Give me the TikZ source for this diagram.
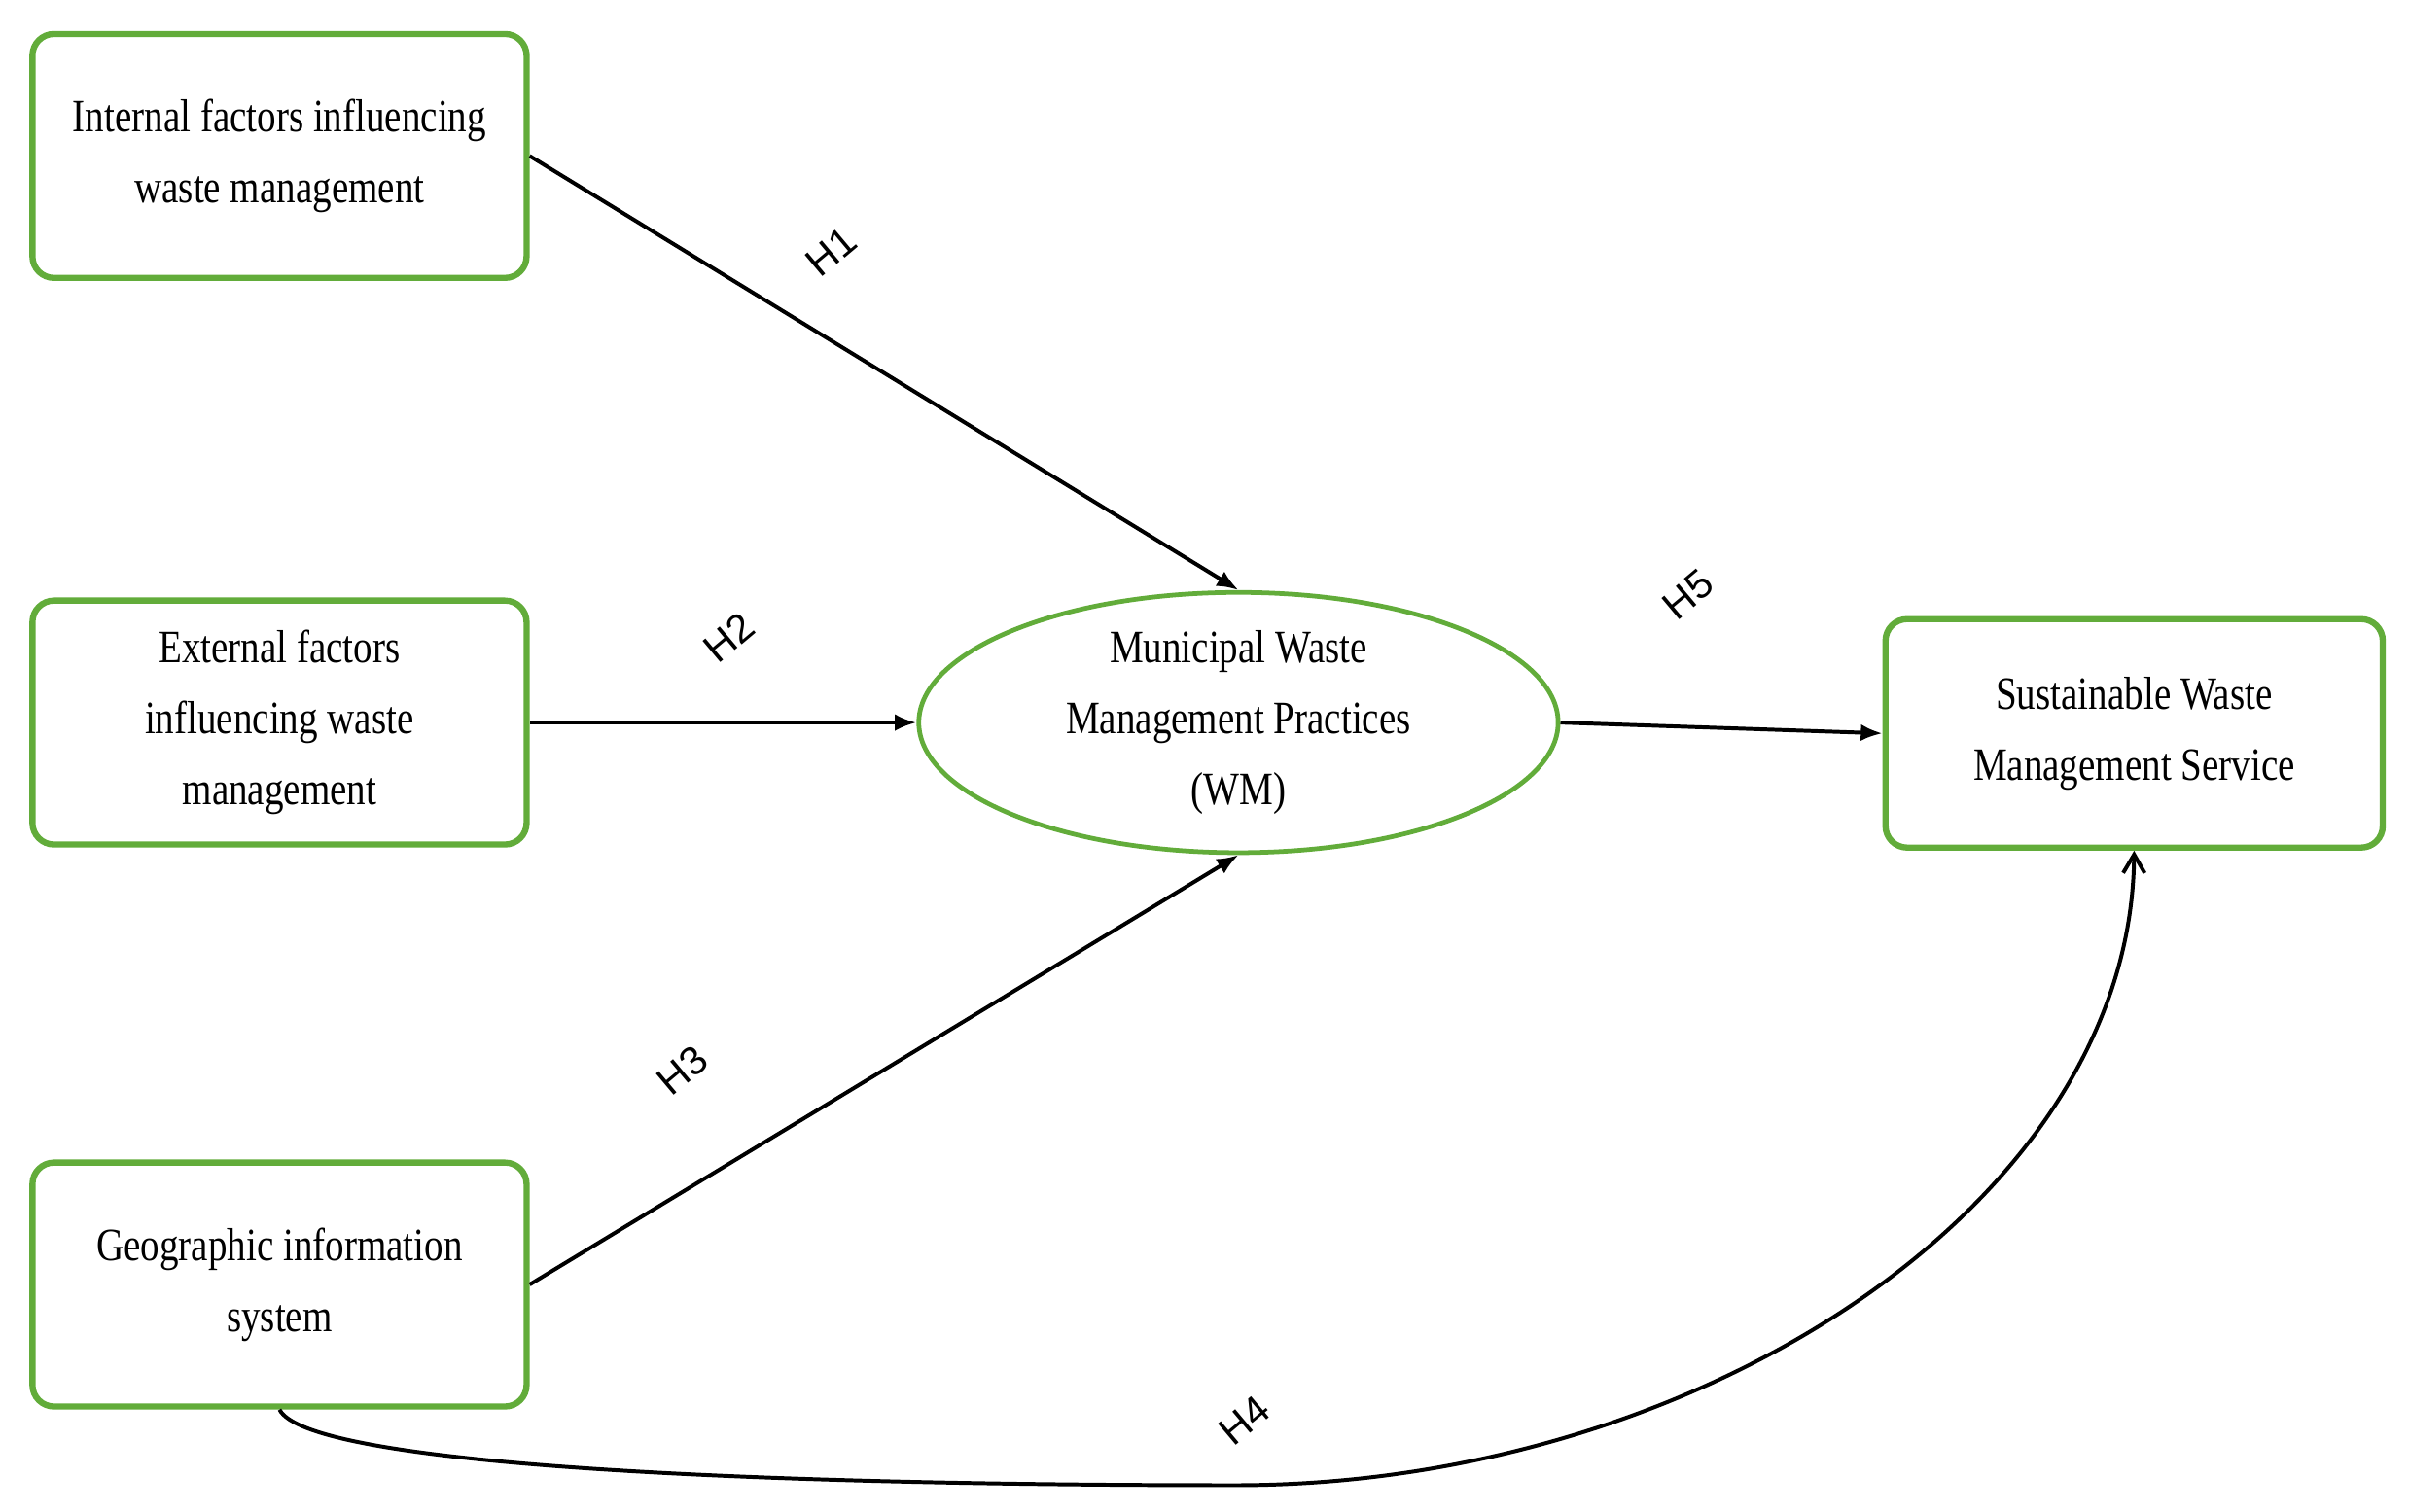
\documentclass[tikz,border=0pt]{standalone}
\usepackage{fontspec}
\setmainfont{Liberation Serif}[FakeStretch=0.82]
\newfontfamily\lab{Liberation Sans}
\usetikzlibrary{arrows.meta,shapes.geometric}
\definecolor{grn}{RGB}{98,172,58}
\begin{document}
\begin{tikzpicture}[x=1pt,y=-1pt,
 box/.style={draw=grn,line width=4pt,rounded corners=14pt,minimum width=320pt,minimum height=158pt,align=center,font=\fontsize{30}{46}\selectfont,inner sep=0pt},
 ar/.style={line width=2.5pt,-{Latex[length=14pt,width=11pt]}},
 hl/.style={font=\lab\fontsize{26}{26}\selectfont,rotate=40,inner sep=1pt}]
\useasboundingbox (0,0) rectangle (1560,979);
\node[box] (a) at (181,101) {Internal factors influencing\\waste management};
\node[box] (b) at (181,468) {External factors\\influencing waste\\management};
\node[box] (c) at (181,832) {Geographic information\\system};
\node[box,minimum width=322pt,minimum height=148pt] (d) at (1382,475) {Sustainable Waste\\Management Service};
\node[draw=grn,line width=3pt,ellipse,minimum width=414pt,minimum height=166pt,align=center,font=\fontsize{30}{46}\selectfont,inner sep=0pt] (e) at (802,468) {Municipal Waste\\Management Practices\\(WM)};
\draw[ar] (a.east) -- (e.north);
\draw[ar] (b.east) -- (e.west);
\draw[ar] (c.east) -- (e.south);
\draw[ar] (e.east) -- (d.west);
\draw[line width=2.5pt,-{Straight Barb[length=12pt,width=14pt]}] (c.south) .. controls (200,950) and (500,962) .. (800,962) .. controls (1100,962) and (1380,780) .. (d.south);
\node[hl] (h1) at (538,163) {H1};
\node[hl] (h2) at (472,413) {H2};
\node[hl] (h3) at (442,693) {H3};
\node[hl] (h5) at (1093,385) {H5};
\node[hl] (h4) at (806,920) {H4};
\end{tikzpicture}
\end{document}
